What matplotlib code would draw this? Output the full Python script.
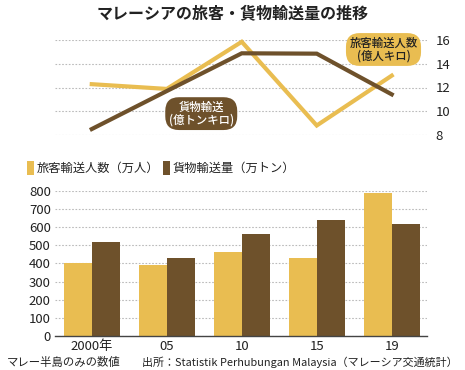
import matplotlib
matplotlib.use("Agg")
import matplotlib.pyplot as plt
import numpy as np

plt.rcParams['font.family'] = ['Noto Sans CJK JP', 'DejaVu Sans']

years = ['2000年', '05', '10', '15', '19']
pass_km = [12.28, 11.88, 15.85, 8.8, 13.0]      # 旅客輸送人数（億人キロ）
freight_km = [8.5, 11.7, 14.88, 14.85, 11.42]    # 貨物輸送（億トンキロ）
passengers = [403, 390, 465, 429, 786]           # 旅客輸送人数（万人）
freight_t = [518, 429, 563, 640, 616]            # 貨物輸送量（万トン）

YEL = '#E9BD51'
BRN = '#6E512B'
GRID = '#BBBBBB'
TXT = '#222222'

W, H = 465, 370
fig = plt.figure(figsize=(W/100, H/100), dpi=100)

def fx(px):
    return px / W

def fy(py):
    return 1 - py / H

x = np.arange(len(years))
xlim = (-0.49, 4.47)

# ---- top line chart ----
ax1 = fig.add_axes([fx(55), fy(135), fx(427) - fx(55), fy(40) - fy(135)])
ax1.set_xlim(*xlim)
ax1.set_ylim(8, 16)
for s in ax1.spines.values():
    s.set_visible(False)
ax1.set_yticks([8, 10, 12, 14, 16])
ax1.yaxis.tick_right()
ax1.tick_params(axis='y', length=0, pad=6, labelsize=9.5, colors=TXT)
ax1.set_xticks([])
ax1.grid(axis='y', color=GRID, linestyle=(0, (1.5, 1.5)), linewidth=0.8)
ax1.set_axisbelow(True)
ax1.plot(x, pass_km, color=YEL, linewidth=3, solid_joinstyle='miter', clip_on=False, zorder=3)
ax1.plot(x, freight_km, color=BRN, linewidth=3, solid_joinstyle='miter', clip_on=False, zorder=4)
ax1.text(1.46, 9.8, '貨物輸送\n(億トンキロ)', color='white', fontsize=8.2, ha='center', va='center',
         linespacing=1.0, zorder=6, fontweight='medium',
         bbox=dict(boxstyle='round,pad=0.3,rounding_size=1.2', fc=BRN, ec='none'))
ax1.text(3.89, 15.2, '旅客輸送人数\n(億人キロ)', color=TXT, fontsize=8.2, ha='center', va='center',
         linespacing=1.0, zorder=6, fontweight='medium',
         bbox=dict(boxstyle='round,pad=0.3,rounding_size=1.2', fc=YEL, ec='none'))

# ---- bottom bar chart ----
ax2 = fig.add_axes([fx(55), fy(336), fx(427) - fx(55), fy(190.7) - fy(336)])
ax2.set_xlim(*xlim)
ax2.set_ylim(0, 800)
bw = 0.373
b1 = ax2.bar(x - bw/2, passengers, width=bw, color=YEL, edgecolor='none', label='旅客輸送人数（万人）', zorder=3)
b2 = ax2.bar(x + bw/2, freight_t, width=bw, color=BRN, edgecolor='none', label='貨物輸送量（万トン）', zorder=3)
for s in ['top', 'right', 'left']:
    ax2.spines[s].set_visible(False)
ax2.spines['bottom'].set_color('#444444')
ax2.spines['bottom'].set_linewidth(1.0)
ax2.spines['bottom'].set_zorder(5)
ax2.set_yticks(range(0, 801, 100))
ax2.tick_params(axis='y', length=0, pad=3, labelsize=9.5, colors=TXT)
ax2.set_xticks(x)
ax2.set_xticklabels(years)
ax2.tick_params(axis='x', length=0, pad=3, labelsize=9.5, colors=TXT)
ax2.grid(axis='y', color=GRID, linestyle=(0, (1.5, 1.5)), linewidth=0.8)
ax2.set_axisbelow(True)

fig.legend(handles=[b1, b2], loc='center left', bbox_to_anchor=(fx(27), fy(168)),
           ncol=2, frameon=False, fontsize=8.8, handlelength=0.55, handleheight=1.5,
           handletextpad=0.25, columnspacing=0.3, borderaxespad=0, borderpad=0,
           labelcolor=TXT)

# ---- title & notes ----
fig.text(fx(233), fy(13), 'マレーシアの旅客・貨物輸送量の推移', ha='center', va='center',
         fontsize=11.5, fontweight='bold', color=TXT)
fig.text(fx(7), fy(362), 'マレー半島のみの数値', ha='left', va='center', fontsize=8.2, color=TXT)
fig.text(fx(458), fy(362), '出所：Statistik Perhubungan Malaysia（マレーシア交通統計）',
         ha='right', va='center', fontsize=7.9, color=TXT)

fig.savefig('out.png', dpi=100, facecolor='white')
